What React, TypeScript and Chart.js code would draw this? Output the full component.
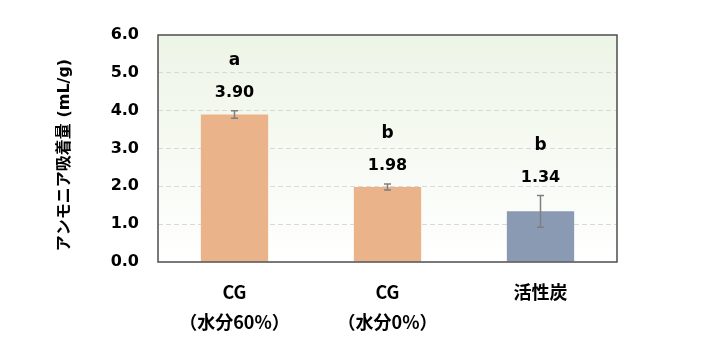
import React, { useEffect, useRef } from "react";
import { Chart, registerables } from "chart.js";

Chart.register(...registerables);

const categories: string[][] = [["CG", "（水分60%）"], ["CG", "（水分0%）"], ["活性炭"]];
const values: number[] = [3.9, 1.98, 1.34];
const errors: number[] = [0.1, 0.08, 0.42];
const valueLabels: string[] = ["3.90", "1.98", "1.34"];
const groupLetters: string[] = ["a", "b", "b"];
const barColors: string[] = ["#ebb38a", "#ebb38a", "#8a9ab3"];
const yTicks: number[] = [0, 1, 2, 3, 4, 5, 6];
const yTitle = "アンモニア吸着量 (mL/g)";

const NUM_FONT = "'DejaVu Sans', 'Noto Sans CJK JP', sans-serif";
const JP_FONT = "'Noto Sans CJK JP', 'DejaVu Sans', sans-serif";

const bgPlugin = {
  id: "bgPlugin",
  beforeDraw(chart: any) {
    const { ctx, chartArea } = chart;
    if (!chartArea) return;
    const g = ctx.createLinearGradient(0, chartArea.top, 0, chartArea.bottom);
    g.addColorStop(0, "#edf5e6");
    g.addColorStop(1, "#ffffff");
    ctx.save();
    ctx.fillStyle = g;
    ctx.fillRect(chartArea.left, chartArea.top, chartArea.right - chartArea.left, chartArea.bottom - chartArea.top);
    ctx.restore();
  },
};

const overlayPlugin = {
  id: "overlayPlugin",
  afterDatasetsDraw(chart: any) {
    const { ctx, chartArea } = chart;
    const meta = chart.getDatasetMeta(0);
    const yScale = chart.scales.y;
    ctx.save();
    meta.data.forEach((bar: any, i: number) => {
      const x = bar.x;
      const yTop = yScale.getPixelForValue(values[i] + errors[i]);
      const yBot = yScale.getPixelForValue(values[i] - errors[i]);
      ctx.strokeStyle = "#7f7f7f";
      ctx.lineWidth = 1.5;
      ctx.beginPath();
      ctx.moveTo(x, yTop);
      ctx.lineTo(x, yBot);
      ctx.moveTo(x - 3.5, yTop);
      ctx.lineTo(x + 3.5, yTop);
      ctx.moveTo(x - 3.5, yBot);
      ctx.lineTo(x + 3.5, yBot);
      ctx.stroke();
      ctx.fillStyle = "#000000";
      ctx.textAlign = "center";
      ctx.textBaseline = "middle";
      ctx.font = "bold 16px " + NUM_FONT;
      ctx.fillText(valueLabels[i], x, yTop - 18);
      ctx.font = "bold 17px " + NUM_FONT;
      ctx.fillText(groupLetters[i], x, yTop - 50);
    });
    ctx.strokeStyle = "#4d4d4d";
    ctx.lineWidth = 1.5;
    ctx.strokeRect(chartArea.left, chartArea.top, chartArea.right - chartArea.left, chartArea.bottom - chartArea.top);
    ctx.translate(65, 155);
    ctx.rotate(-Math.PI / 2);
    ctx.font = "bold 16px " + NUM_FONT;
    ctx.textAlign = "center";
    ctx.textBaseline = "middle";
    ctx.fillStyle = "#000000";
    ctx.fillText(yTitle, 0, 0);
    ctx.restore();
  },
};

export default function App() {
  const ref = useRef<HTMLCanvasElement | null>(null);
  useEffect(() => {
    if (!ref.current) return;
    const chart = new Chart(ref.current, {
      type: "bar",
      data: {
        labels: categories,
        datasets: [
          {
            data: values,
            backgroundColor: barColors,
            borderWidth: 0,
            barPercentage: 0.44,
            categoryPercentage: 1,
          },
        ],
      },
      options: {
        animation: false,
        responsive: false,
        maintainAspectRatio: false,
        layout: { padding: { left: 0, right: 93, top: 35, bottom: 0 } },
        plugins: { legend: { display: false }, tooltip: { enabled: false } },
        scales: {
          x: {
            grid: { display: false, drawTicks: false },
            border: { display: false },
            ticks: {
              color: "#000000",
              padding: 15,
              font: { family: JP_FONT, size: 18, weight: "bold", lineHeight: 1.667 },
              maxRotation: 0,
              autoSkip: false,
            },
            afterFit(scale: any) {
              scale.height = 98;
            },
          },
          y: {
            min: 0,
            max: 6,
            afterBuildTicks(scale: any) {
              scale.ticks = yTicks.map((v) => ({ value: v }));
            },
            grid: {
              color: (c: any) => (c.tick && (c.tick.value === 0 || c.tick.value === 6) ? "rgba(0,0,0,0)" : "#d9d9d9"),
              drawTicks: false,
              lineWidth: 1,
            },
            border: { display: false, dash: [5, 3] },
            ticks: {
              color: "#000000",
              padding: 19,
              font: { family: NUM_FONT, size: 16, weight: "bold" },
              callback: (v: any) => Number(v).toFixed(1),
            },
            afterFit(scale: any) {
              scale.width = 158;
            },
          },
        },
      },
      plugins: [bgPlugin, overlayPlugin],
    });
    return () => chart.destroy();
  }, []);
  return (
    <div style={{ position: "fixed", left: 0, top: 0, width: 710, height: 360, background: "#ffffff" }}>
      <canvas ref={ref} width={710} height={360} style={{ width: 710, height: 360, display: "block" }} />
    </div>
  );
}
